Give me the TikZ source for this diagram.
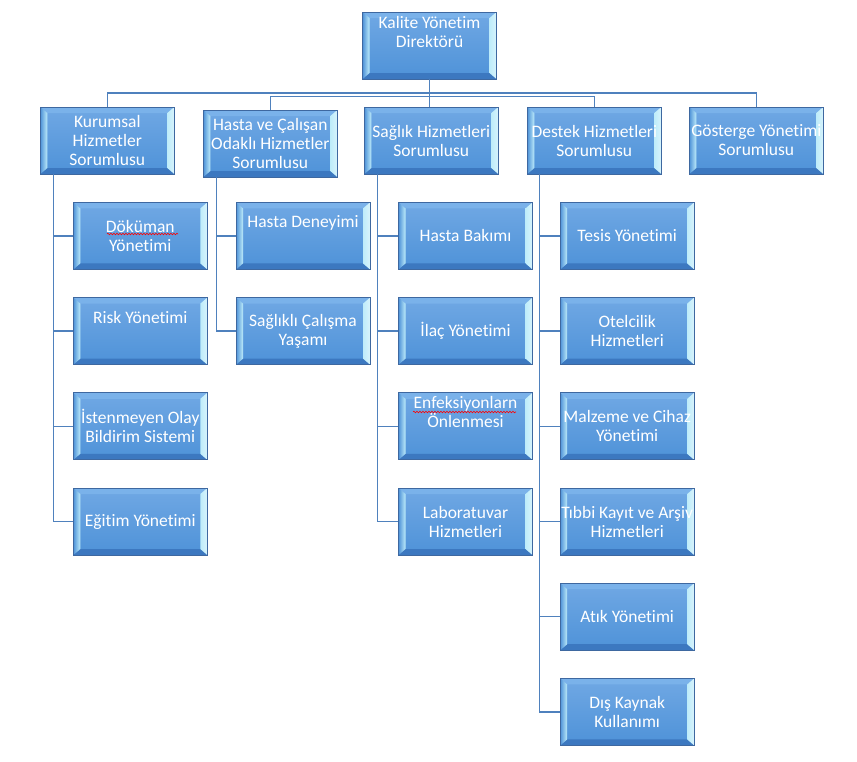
\documentclass[tikz,border=0pt]{standalone}
\usepackage{fontspec}
\setmainfont{Carlito}[Ligatures=NoCommon]
\usepackage{tikz}
\usetikzlibrary{decorations.pathmorphing}
\definecolor{mblue}{RGB}{79,129,189}
\definecolor{mline}{RGB}{62,104,160}
\definecolor{mtop}{RGB}{112,168,228}
\definecolor{mbot}{RGB}{78,146,216}
\definecolor{mcyan}{RGB}{190,236,250}
\definecolor{mdark}{RGB}{60,120,192}
\definecolor{mlight}{RGB}{122,178,234}
\tikzset{conn/.style = {draw=mblue, line width=1.4}}
\tikzset{orgbox/.style = {draw=mline, line width=0.8, top color=mtop, bottom color=mbot,
    minimum width=134, minimum height=67, inner sep=0, text=white, align=center,
    font=\fontsize{17.5}{19}\selectfont,
    path picture={
      \def\bb{path picture bounding box}
      \fill[mlight] (\bb.north west) -- (\bb.north east) -- ([shift={(-7pt,-6pt)}]\bb.north east) -- ([shift={(7pt,-6pt)}]\bb.north west) -- cycle;
      \fill[mdark] (\bb.south west) -- (\bb.south east) -- ([shift={(-7pt,6pt)}]\bb.south east) -- ([shift={(7pt,6pt)}]\bb.south west) -- cycle;
      \shade[left color=mbot, right color=mcyan] (\bb.north west) -- (\bb.south west) -- ([shift={(7pt,6pt)}]\bb.south west) -- ([shift={(7pt,-6pt)}]\bb.north west) -- cycle;
      \shade[left color=mcyan, right color=mcyan!60!white] (\bb.north east) -- (\bb.south east) -- ([shift={(-7pt,6pt)}]\bb.south east) -- ([shift={(-7pt,-6pt)}]\bb.north east) -- cycle;
    }}}

\begin{document}
\begin{tikzpicture}[x=1pt, y=-1pt]
      \useasboundingbox (0,0) rectangle (857,761);
      \node [orgbox] (kal) at (429.5, 45.5) {Kalite Yönetim\\Direktörü\\[9pt]\mbox{}};
      \node [orgbox] (kur) at (107.3, 140.5) {Kurumsal\\Hizmetler\\Sorumlusu};
      \node [orgbox] (hcs) at (270.3, 143.5) {Hasta ve Çalışan\\Odaklı Hizmetler\\Sorumlusu};
      \node [orgbox] (sag) at (431.3, 140.5) {Sağlık Hizmetleri\\Sorumlusu};
      \node [orgbox] (des) at (594.3, 140.5) {Destek Hizmetleri\\Sorumlusu};
      \node [orgbox] (gos) at (756.3, 140.5) {Gösterge Yönetimi\\Sorumlusu};
      \coordinate (busa) at (430, 93);
      \coordinate (busb) at (430, 96.5);
      \draw [conn] (kal.south) -- (kal.south |- sag.north);
      \draw [conn] (kur.north) |- (busa) -| (gos.north);
      \draw [conn] (hcs.north) |- (busb) -| (des.north);
      \foreach \t [count=\i] in {{Döküman\\Yönetimi}, {Risk Yönetimi\\[9pt]\mbox{}}, {İstenmeyen Olay\\Bildirim Sistemi}, {Eğitim Yönetimi}} {
        \node [orgbox] (kur\i) at (140.3, 140.7+95.2*\i) {\t};
        \draw [conn] ([xshift=13.5]kur.south west) |- (kur\i.west);
      }
      \foreach \t [count=\i] in {{Hasta Deneyimi\\[9pt]\mbox{}}, {Sağlıklı Çalışma\\Yaşamı}} {
        \node [orgbox] (hcs\i) at (303, 140.7+95.2*\i) {\t};
        \draw [conn] ([xshift=13.5]hcs.south west) |- (hcs\i.west);
      }
      \foreach \t [count=\i] in {{Hasta Bakımı}, {İlaç Yönetimi}, {Enfeksiyonlarn\\Önlenmesi\\[9pt]\mbox{}}, {Laboratuvar\\Hizmetleri}} {
        \node [orgbox] (sag\i) at (465.5, 140.7+95.2*\i) {\t};
        \draw [conn] ([xshift=13.5]sag.south west) |- (sag\i.west);
      }
      \foreach \t [count=\i] in {{Tesis Yönetimi}, {Otelcilik\\Hizmetleri}, {Malzeme ve Cihaz\\Yönetimi}, {Tıbbi Kayıt ve Arşiv\\Hizmetleri}, {Atık Yönetimi}, {Dış Kaynak\\Kullanımı}} {
        \node [orgbox] (des\i) at (627.2, 140.7+95.2*\i) {\t};
        \draw [conn] ([xshift=12.7]des.south west) |- (des\i.west);
      }
      \draw [red, line width=0.6, decorate, decoration={snake, amplitude=0.8, segment length=3}] (107, 234) -- (178, 234);
      \draw [red, line width=0.6, decorate, decoration={snake, amplitude=0.8, segment length=3}] (413, 412) -- (516, 412);
    \end{tikzpicture}
\end{document}
